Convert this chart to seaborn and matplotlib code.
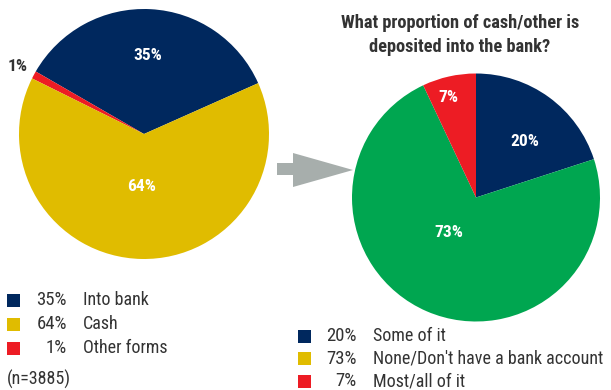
import numpy as np
import matplotlib
matplotlib.use("Agg")
import matplotlib.pyplot as plt
from matplotlib import font_manager
from matplotlib.patches import Rectangle, Polygon
import seaborn as sns

# ---- data -------------------------------------------------------------
left_labels = ["Into bank", "Cash", "Other forms"]
left_values = [35, 64, 1]
left_colors = ["#00285E", "#E0BC00", "#ED1C24"]

right_labels = ["Some of it", "None/Don't have a bank account", "Most/all of it"]
right_values = [20, 73, 7]
right_pie_colors = ["#00285E", "#00A650", "#ED1C24"]
right_legend_colors = ["#00285E", "#E0BC00", "#ED1C24"]

sample_note = "(n=3885)"
title = "What proportion of cash/other is\ndeposited into the bank?"

# ---- style ------------------------------------------------------------
sns.set_theme(style="white")
installed = {f.name for f in font_manager.fontManager.ttflist}
narrow = next((n for n in ["Liberation Sans Narrow", "DejaVu Sans Condensed",
                           "Roboto Condensed", "Open Sans Condensed"]
               if n in installed), "DejaVu Sans")
plt.rcParams["font.family"] = [narrow, "DejaVu Sans"]
TEXT = "#333333"

W, H = 611, 390
fig = plt.figure(figsize=(W / 100, H / 100), dpi=100)
fig.patch.set_facecolor("white")


def px_axes(cx, cy, r):
    """Square axes centred on pixel (cx, cy) measured from top-left."""
    ax = fig.add_axes([(cx - r) / W, (H - cy - r) / H, 2 * r / W, 2 * r / H])
    ax.set_xlim(-1, 1)
    ax.set_ylim(-1, 1)
    ax.set_aspect("equal")
    ax.axis("off")
    return ax


def place_label(ax, wedge, text, frac, dang=0.0, color="white", **kw):
    mid = np.deg2rad((wedge.theta1 + wedge.theta2) / 2 + dang)
    ax.text(frac * np.cos(mid), frac * np.sin(mid), text, ha="center",
            va="center", color=color, **kw)


# ---- left pie: how payments are received -------------------------------
axL = px_axes(144, 134, 125)
order_L = [0, 2, 1]  # counter-clockwise: bank, other, cash
wedges_L, _ = axL.pie([left_values[i] for i in order_L],
                      colors=[left_colors[i] for i in order_L],
                      startangle=24, counterclock=True, radius=1,
                      wedgeprops=dict(linewidth=0))
axL.set_xlim(-1, 1)
axL.set_ylim(-1, 1)
wL = {i: w for i, w in zip(order_L, wedges_L)}
place_label(axL, wL[0], f"{left_values[0]}%", 0.63, 0, fontsize=12.5, fontweight="semibold")
place_label(axL, wL[1], f"{left_values[1]}%", 0.42, -2, fontsize=12.5, fontweight="semibold")
place_label(axL, wL[2], f"{left_values[2]}%", 1.15, 0, color=TEXT, fontsize=12.5,
            fontweight="semibold")

# ---- right pie: share deposited -----------------------------------------
axR = px_axes(476, 197.5, 124)
wedges_R, _ = axR.pie(right_values, colors=right_pie_colors, startangle=90,
                      counterclock=False, radius=1,
                      wedgeprops=dict(linewidth=0))
axR.set_xlim(-1, 1)
axR.set_ylim(-1, 1)
place_label(axR, wedges_R[0], f"{right_values[0]}%", 0.6, -5, fontsize=12.5, fontweight="semibold")
place_label(axR, wedges_R[1], f"{right_values[1]}%", 0.36, -14, fontsize=12.5, fontweight="semibold")
place_label(axR, wedges_R[2], f"{right_values[2]}%", 0.84, 3, fontsize=12.5, fontweight="semibold")

fig.text(460 / W, 1 - 35 / H, title, ha="center", va="center", color=TEXT,
         fontsize=13.2, fontweight="heavy", linespacing=1.4)

# ---- connecting arrow --------------------------------------------------
arrow_px = [(277, 163), (293, 163), (293, 153), (353, 170),
            (293, 187), (293, 175), (277, 175)]
fig.add_artist(Polygon([(x / W, 1 - y / H) for x, y in arrow_px], closed=True,
                       transform=fig.transFigure, facecolor="#A7AEAC",
                       edgecolor="none"))


# ---- legends ------------------------------------------------------------
def legend(x_box, x_pct, x_lab, y0, dy, values, labels, colors):
    for k, (v, lab, c) in enumerate(zip(values, labels, colors)):
        y = y0 + k * dy
        fig.add_artist(Rectangle(((x_box) / W, 1 - (y + 6.5) / H), 13 / W, 13 / H,
                                 transform=fig.transFigure, facecolor=c,
                                 edgecolor="none"))
        fig.text(x_pct / W, 1 - y / H, f"{v}%", ha="right", va="center",
                 color=TEXT, fontsize=13.5)
        fig.text(x_lab / W, 1 - y / H, lab, ha="left", va="center",
                 color=TEXT, fontsize=13)


legend(7, 67, 83, 300, 24, left_values, left_labels, left_colors)
fig.text(7 / W, 1 - 379 / H, sample_note, ha="left", va="center", color=TEXT,
         fontsize=13)
legend(298, 357, 373, 336, 22.5, right_values, right_labels, right_legend_colors)

fig.savefig("out.png", dpi=100, facecolor="white")
